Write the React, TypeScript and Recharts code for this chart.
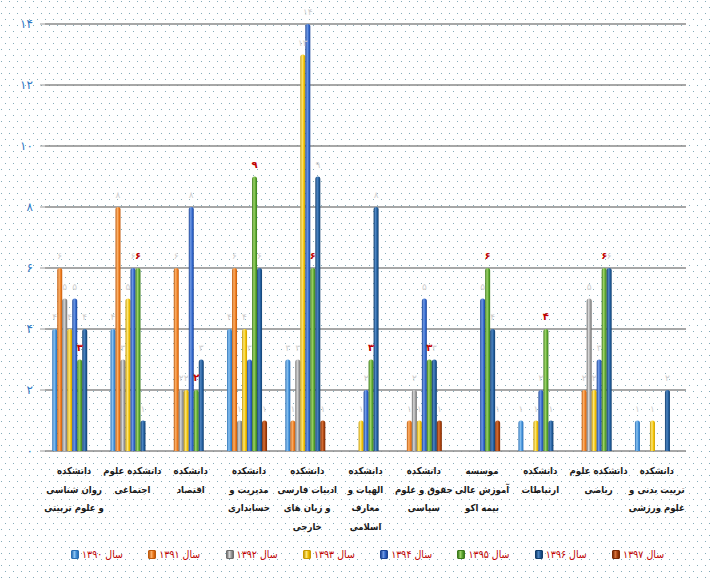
import React from 'react';
import { BarChart, Bar, XAxis, YAxis, CartesianGrid, Legend, LabelList } from 'recharts';

const categoryLines: string[][] = [
  ['دانشکده', 'روان شناسی', 'و علوم تربیتی'],
  ['دانشکده علوم', 'اجتماعی'],
  ['دانشکده', 'اقتصاد'],
  ['دانشکده', 'مدیریت و', 'حسابداری'],
  ['دانشکده', 'ادبیات فارسی', 'و زبان های', 'خارجی'],
  ['دانشکده', 'الهیات و', 'معارف', 'اسلامی'],
  ['دانشکده', 'حقوق و علوم', 'سیاسی'],
  ['موسسه', 'آموزش عالی', 'بیمه اکو'],
  ['دانشکده', 'ارتباطات'],
  ['دانشکده علوم', 'ریاضی'],
  ['دانشکده', 'تربیت بدنی و', 'علوم ورزشی'],
];
const categories = categoryLines.map((l) => l.join(' '));

const seriesNames = ['سال ۱۳۹۰', 'سال ۱۳۹۱', 'سال ۱۳۹۲', 'سال ۱۳۹۳', 'سال ۱۳۹۴', 'سال ۱۳۹۵', 'سال ۱۳۹۶', 'سال ۱۳۹۷'];

const s1390 = [4, 4, 0, 4, 3, 0, 0, 0, 1, 0, 1];
const s1391 = [6, 8, 6, 6, 1, 0, 1, 0, 0, 2, 0];
const s1392 = [5, 3, 2, 1, 3, 0, 2, 0, 0, 5, 0];
const s1393 = [4, 5, 2, 4, 13, 1, 1, 0, 1, 2, 1];
const s1394 = [5, 6, 8, 3, 14, 2, 5, 5, 2, 3, 0];
const s1395 = [3, 6, 2, 9, 6, 3, 3, 6, 4, 6, 0];
const s1396 = [4, 1, 3, 6, 9, 8, 3, 4, 1, 6, 2];
const s1397 = [0, 0, 0, 1, 1, 0, 1, 1, 0, 0, 0];
const seriesValues = [s1390, s1391, s1392, s1393, s1394, s1395, s1396, s1397];

const yTicks = [0, 2, 4, 6, 8, 10, 12, 14];

// [dark, light, base]
const seriesColors: string[][] = [
  ['#2a6fb5', '#8cc4f2', '#3f8ed8'],
  ['#c05a0c', '#fbb16a', '#ee7a1c'],
  ['#6e6e6e', '#d8d8d8', '#9b9b9b'],
  ['#c99a00', '#fde87a', '#f2c200'],
  ['#1d4596', '#6f9ae6', '#2f64c9'],
  ['#3b7a1b', '#9fd46a', '#5aa72f'],
  ['#123e6d', '#4f86c2', '#1f5b9a'],
  ['#7a2a05', '#d8733a', '#a8400c'],
];

const data = categories.map((name, i) => {
  const row: any = { name, idx: i };
  seriesValues.forEach((vals, k) => {
    row['s' + k] = vals[i];
  });
  return row;
});

const FA = '۰۱۲۳۴۵۶۷۸۹';
const fa = (v: any) => String(v).replace(/\d/g, (d) => FA[+d]);

const FONT = 'DejaVu Sans';
const FONT_C = '"DejaVu Sans Condensed", "DejaVu Sans"';

const CatTick = (props: any) => {
  const { x, y, payload } = props;
  const idx = categories.indexOf(payload.value);
  const lines = categoryLines[idx] || [];
  return (
    <g transform={`translate(${x},${y})`}>
      <text textAnchor="middle" fontSize={9.5} fontWeight="bold" fill="#1a1a1a" fontFamily={FONT_C}>
        {lines.map((l, i) => (
          <tspan key={i} x={0} dy={i === 0 ? 15 : 18.5}>
            {l}
          </tspan>
        ))}
      </text>
    </g>
  );
};

const LegendContent = () => (
  <div style={{ display: 'flex', alignItems: 'center', height: 20, paddingLeft: 71, boxSizing: 'border-box' }}>
    {seriesNames.map((n, k) => (
      <div key={k} style={{ width: 77.3, display: 'flex', alignItems: 'center', flexShrink: 0 }}>
        <span
          style={{
            display: 'inline-block',
            width: 6,
            height: 7,
            marginRight: 3,
            background: `linear-gradient(90deg, ${seriesColors[k][0]}, ${seriesColors[k][1]} 40%, ${seriesColors[k][2]} 70%, ${seriesColors[k][0]})`,
            border: `1px solid ${seriesColors[k][0]}`,
            borderRadius: 1,
          }}
        />
        <span style={{ fontSize: 10.5, color: '#c00000', fontFamily: FONT_C, whiteSpace: 'nowrap' }}>{n}</span>
      </div>
    ))}
  </div>
);

const dotBg =
  "url(\"data:image/svg+xml;utf8,<svg xmlns='http://www.w3.org/2000/svg' width='8' height='12'><rect x='1' y='1' width='1' height='1' fill='%2385abb9'/><rect x='5' y='7' width='1' height='1' fill='%2385abb9'/></svg>\")";

export default function App() {
  return (
    <div
      style={{
        position: 'absolute',
        left: 0,
        top: 0,
        width: 711,
        height: 582,
        backgroundColor: '#ffffff',
        backgroundImage: dotBg,
        backgroundSize: '8px 12px',
      }}
    >
      <BarChart
        width={711}
        height={582}
        data={data}
        margin={{ top: 24, right: 25, bottom: 18, left: 0 }}
        barCategoryGap="12.4%"
        barGap={0}
      >
        <defs>
          {seriesColors.map((c, k) => (
            <linearGradient key={k} id={`g${k}`} x1="0" y1="0" x2="1" y2="0">
              <stop offset="0%" stopColor={c[0]} />
              <stop offset="38%" stopColor={c[1]} />
              <stop offset="72%" stopColor={c[2]} />
              <stop offset="100%" stopColor={c[0]} />
            </linearGradient>
          ))}
        </defs>
        <CartesianGrid vertical={false} stroke="#8a8a8a" strokeWidth={1.7} />
        <XAxis
          dataKey="name"
          interval={0}
          tickLine={false}
          axisLine={false}
          height={93}
          tick={<CatTick />}
        />
        <YAxis
          width={45}
          domain={[0, 14]}
          ticks={yTicks}
          interval={0}
          axisLine={false}
          tickLine={{ stroke: '#9a9a9a' }}
          tickSize={5}
          tickMargin={7}
          tickFormatter={fa}
          tick={{ fill: '#2f78c4', fontSize: 12, fontFamily: FONT }}
        />
        <Legend
          verticalAlign="bottom"
          height={20}
          width={711}
          wrapperStyle={{ left: 0, width: 711, bottom: 18 }}
          content={<LegendContent />}
        />
        {seriesNames.map((n, k) => (
          <Bar
            key={k}
            dataKey={'s' + k}
            name={n}
            fill={`url(#g${k})`}
            radius={[2.5, 2.5, 0, 0]}
            isAnimationActive={false}
          >
            <LabelList
              dataKey={'s' + k}
              position="top"
              offset={9}
              formatter={fa}
              fill={k === 5 ? '#c00000' : '#cdcdcd'}
              fontSize={k === 5 ? 10 : 9}
              fontWeight={k === 5 ? 'bold' : 'normal'}
              fontFamily={FONT}
            />
          </Bar>
        ))}
      </BarChart>
    </div>
  );
}
